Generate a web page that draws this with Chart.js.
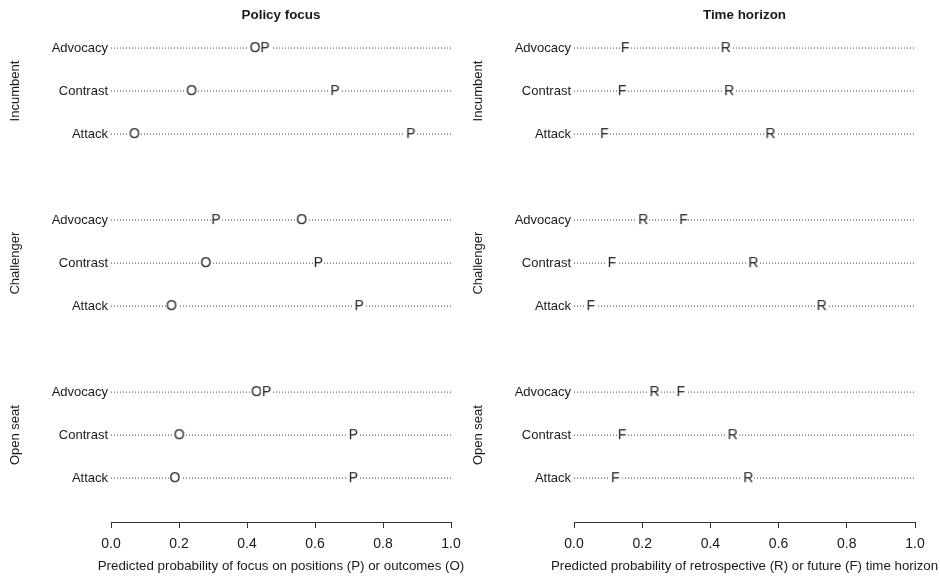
<!DOCTYPE html>
<html>
<head>
<meta charset="utf-8">
<script src="https://cdn.jsdelivr.net/npm/chart.js@4.4.1/dist/chart.umd.min.js"></script>
<style>
  html, body { margin: 0; padding: 0; background: #fff; }
  #wrap { position: relative; width: 940px; height: 578px; }
  .panel { position: absolute; top: 0; width: 470px; height: 578px; }
  #p1 { left: 0; }
  #p2 { left: 470px; }
</style>
</head>
<body>
<div id="wrap">
  <div class="panel" id="p1"><canvas id="c1" width="470" height="578"></canvas></div>
  <div class="panel" id="p2"><canvas id="c2" width="470" height="578"></canvas></div>
</div>
<script>
// ---- Data ----
const groups = ['Incumbent', 'Challenger', 'Open seat'];
const categories = ['Advocacy', 'Contrast', 'Attack'];
const rowPositions = [0, 1, 2, 4, 5, 6, 8, 9, 10];
const xTicks = [0, 0.2, 0.4, 0.6, 0.8, 1.0];

// Policy focus panel
const policyPositions = [0.453, 0.659, 0.882, 0.309, 0.610, 0.730, 0.458, 0.713, 0.713];
const policyOutcomes  = [0.424, 0.237, 0.069, 0.561, 0.279, 0.178, 0.428, 0.201, 0.188];

// Time horizon panel
const timeRetro  = [0.445, 0.455, 0.576, 0.203, 0.526, 0.726, 0.236, 0.465, 0.511];
const timeFuture = [0.150, 0.141, 0.089, 0.321, 0.111, 0.049, 0.313, 0.141, 0.121];

const FONT = "'Liberation Sans', Arial, Helvetica, sans-serif";
const TXT = '#1a1a1a';

function glyph(ch) {
  const c = document.createElement('canvas');
  const ctx = c.getContext('2d');
  ctx.font = '14px ' + FONT;
  const w = Math.ceil(ctx.measureText(ch).width) + 1;
  c.width = w; c.height = 16;
  ctx.font = '14px ' + FONT;
  ctx.fillStyle = '#fff';
  ctx.fillRect(0, 3, w, 10);
  ctx.fillStyle = TXT;
  ctx.textAlign = 'center';
  ctx.textBaseline = 'middle';
  ctx.fillText(ch, w / 2, 8.5);
  return c;
}

function makePanel(canvasId, title, xTitle, seriesA, letterA, seriesB, letterB, yWidth, rightPad) {
  const lineSets = rowPositions.map(r => ({
    type: 'line',
    data: [{x: 0, y: r}, {x: 1, y: r}],
    borderColor: '#444',
    borderWidth: 1,
    borderDash: [1, 2],
    pointRadius: 0,
    order: 2
  }));
  const mk = (vals, ch) => ({
    type: 'scatter',
    data: vals.map((v, i) => ({x: v, y: rowPositions[i]})),
    pointStyle: glyph(ch),
    pointRadius: 6,
    order: 1
  });
  const overlay = {
    id: 'overlay',
    afterDraw(chart) {
      const {ctx, chartArea, scales} = chart;
      const cx = (chartArea.left + chartArea.right) / 2;
      ctx.save();
      ctx.fillStyle = TXT;
      ctx.font = 'bold 13.4px ' + FONT;
      ctx.textAlign = 'center';
      ctx.textBaseline = 'middle';
      ctx.fillText(title, cx, 15);
      ctx.font = '13.3px ' + FONT;
      ctx.fillText(xTitle, cx, 566);
      ctx.font = '13px ' + FONT;
      groups.forEach((g, gi) => {
        const y = scales.y.getPixelForValue(rowPositions[gi * 3 + 1]);
        ctx.save();
        ctx.translate(chartArea.left - 96, y);
        ctx.rotate(-Math.PI / 2);
        ctx.fillText(g, 0, 0);
        ctx.restore();
      });
      ctx.restore();
    }
  };
  return new Chart(document.getElementById(canvasId), {
    type: 'scatter',
    data: { datasets: [...lineSets, mk(seriesA, letterA), mk(seriesB, letterB)] },
    options: {
      responsive: false,
      animation: false,
      layout: { padding: { top: 30, right: rightPad, bottom: 0, left: 0 } },
      plugins: { legend: { display: false }, tooltip: { enabled: false }, title: { display: false } },
      scales: {
        x: {
          type: 'linear', min: 0, max: 1,
          afterBuildTicks: s => { s.ticks = xTicks.map(v => ({value: v})); },
          afterFit: s => { s.height = 56; },
          ticks: { callback: v => Number(v).toFixed(1), color: TXT, font: { family: FONT, size: 14 }, padding: 8, maxRotation: 0 },
          grid: { display: true, drawOnChartArea: false, drawTicks: true, tickLength: 6, color: '#333', tickColor: '#333' },
          border: { display: true, color: '#333' },
          title: { display: false }
        },
        y: {
          type: 'linear', reverse: true, min: -0.42, max: 11.02,
          afterBuildTicks: s => { s.ticks = rowPositions.map(v => ({value: v})); },
          afterFit: s => { s.width = yWidth; },
          ticks: {
            callback: v => { const i = rowPositions.indexOf(v); return i >= 0 ? categories[i % 3] : ''; },
            color: TXT, font: { family: FONT, size: 13 }, padding: 3
          },
          grid: { display: true, drawOnChartArea: false, drawTicks: false },
          border: { display: false }
        }
      }
    },
    plugins: [overlay]
  });
}

makePanel('c1', 'Policy focus', 'Predicted probability of focus on positions (P) or outcomes (O)',
  policyPositions, 'P', policyOutcomes, 'O', 111, 19);
makePanel('c2', 'Time horizon', 'Predicted probability of retrospective (R) or future (F) time horizon',
  timeRetro, 'R', timeFuture, 'F', 104, 25);
</script>
</body>
</html>
